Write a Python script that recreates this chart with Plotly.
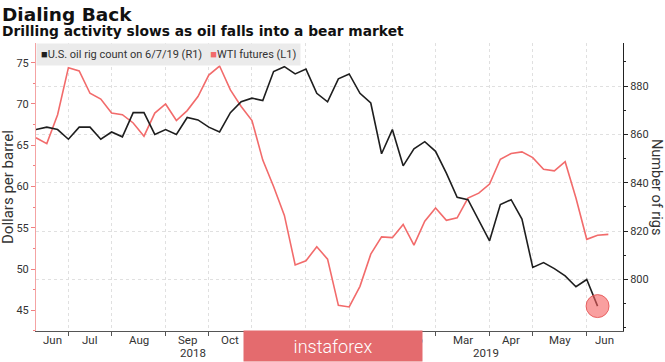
import pandas as pd
import plotly.graph_objects as go

# ---------------- data ----------------
week_dates = pd.date_range("2018-06-08", periods=54, freq="7D")

rig_count = [862, 863, 862, 858, 863, 863, 858, 861, 859, 869,
             869, 860, 862, 860, 867, 866, 863, 861, 869, 873.5,
             875, 874, 886, 888, 885, 887, 877, 873.5, 883, 885,
             877, 873, 852, 862, 847, 854, 857, 853, 844, 834,
             833, 824.5, 816, 831, 833, 825, 805, 807, 804.5, 801.5,
             797, 800, 789]

wti_futures = [65.9, 65.2, 68.7, 74.4, 74.0, 71.3, 70.6, 68.9, 68.7, 67.7,
               66.1, 68.9, 70.0, 68.0, 69.2, 70.9, 73.5, 74.6, 71.7, 69.7,
               68.0, 63.2, 60.0, 56.5, 50.5, 51.0, 52.7, 51.2, 45.6, 45.4,
               47.9, 51.8, 53.9, 53.8, 55.4, 52.9, 55.8, 57.4, 55.9, 56.2,
               58.6, 59.2, 60.3, 63.3, 64.0, 64.2, 63.5, 62.1, 61.9, 63.0,
               58.6, 53.6, 54.1, 54.2]

tick_dates = pd.to_datetime([
    "2018-06-29", "2018-07-27", "2018-08-31", "2018-09-28", "2018-10-26",
    "2018-11-30", "2018-12-28", "2019-01-25", "2019-02-22", "2019-03-29",
    "2019-04-26", "2019-05-31"])
month_labels = ["Jun", "Jul", "Aug", "Sep", "Oct", "Nov", "Dec",
                "Jan", "Feb", "Mar", "Apr", "May", "Jun"]
year_labels = ["2018", "2019"]
left_ticks = [45, 50, 55, 60, 65, 70, 75]
right_ticks = [800, 820, 840, 860, 880]

# ---------------- layout helpers ----------------
W, H = 665, 362
ML, MR, MT, MB = 36, 42, 43, 31
PW, PH = W - ML - MR, H - MT - MB

def px_x(px):
    return (px - ML) / PW

def px_y(py):
    return (H - MB - py) / PH

x_start = pd.Timestamp("2018-06-08")
x_end = pd.Timestamp("2019-06-23 12:00")

RED = "#f26b6b"
BLACK = "#1e1e1e"
TXT = "#333333"
GRID = "#e0e0e0"
FONT = "Roboto"
TITLE_FONT = "DejaVu Sans"

fig = go.Figure()
fig.add_trace(go.Scatter(x=week_dates[:len(wti_futures)], y=wti_futures,
                         mode="lines", line=dict(color=RED, width=1.6),
                         name="WTI futures (L1)", yaxis="y"))
fig.add_trace(go.Scatter(x=week_dates[:len(rig_count)], y=rig_count,
                         mode="lines", line=dict(color=BLACK, width=1.6),
                         name="U.S. oil rig count on 6/7/19 (R1)", yaxis="y2"))
fig.add_trace(go.Scatter(x=[week_dates[len(rig_count) - 1]], y=[rig_count[-1]],
                         mode="markers", yaxis="y2",
                         marker=dict(size=23, color="rgba(245,95,95,0.6)",
                                     line=dict(width=1, color="rgba(225,70,70,0.75)")),
                         showlegend=False))

annotations = []
# titles
annotations.append(dict(text="<b>Dialing Back</b>", xref="paper", yref="paper",
                        x=px_x(0), y=px_y(14), xanchor="left", yanchor="middle",
                        showarrow=False, font=dict(family=TITLE_FONT, size=18.5, color="#111")))
annotations.append(dict(text="<b>Drilling activity slows as oil falls into a bear market</b>",
                        xref="paper", yref="paper", x=px_x(0), y=px_y(31),
                        xanchor="left", yanchor="middle", showarrow=False,
                        font=dict(family=TITLE_FONT, size=13.8, color="#111")))
# axis titles
annotations.append(dict(text="Dollars per barrel", xref="paper", yref="paper",
                        x=px_x(8), y=0.5, textangle=-90, showarrow=False,
                        xanchor="center", yanchor="middle",
                        font=dict(family=FONT, size=15, color=TXT)))
annotations.append(dict(text="Number of rigs", xref="paper", yref="paper",
                        x=px_x(657), y=0.5, textangle=90, showarrow=False,
                        xanchor="center", yanchor="middle",
                        font=dict(family=FONT, size=14.5, color=TXT)))
# legend box
legend_text = (f'<span style="color:{BLACK}">■</span>U.S. oil rig count on 6/7/19 (R1)'
               f'   <span style="color:{RED}">■</span>WTI futures (L1)')
annotations.append(dict(text=legend_text, xref="paper", yref="paper",
                        x=0, y=1, xanchor="left", yanchor="top", showarrow=False,
                        align="left", bgcolor="#ebebeb", borderpad=4,
                        font=dict(family=FONT, size=11, color=TXT)))
# month labels centred between tick marks
bounds = [x_start] + list(tick_dates) + [x_end]
for i, lab in enumerate(month_labels):
    mid = bounds[i] + (bounds[i + 1] - bounds[i]) / 2
    annotations.append(dict(text=lab, xref="x", yref="paper", x=mid.isoformat(),
                            y=px_y(339.5), xanchor="center", yanchor="middle",
                            showarrow=False, font=dict(family=FONT, size=11.5, color=TXT)))
year_bounds = [x_start, tick_dates[6], x_end]
for i, lab in enumerate(year_labels):
    mid = year_bounds[i] + (year_bounds[i + 1] - year_bounds[i]) / 2
    annotations.append(dict(text=lab, xref="x", yref="paper", x=mid.isoformat(),
                            y=px_y(352.5), xanchor="center", yanchor="middle",
                            showarrow=False, font=dict(family=FONT, size=11.5, color=TXT)))
# watermark overlay
annotations.append(dict(text="instaforex", xref="paper", yref="paper",
                        x=px_x(333), y=px_y(345.7), xanchor="center", yanchor="middle",
                        showarrow=False, width=178, height=30, borderpad=0,
                        bgcolor="#e46b6e",
                        font=dict(family=FONT, size=18, color="white", weight=300)))

fig.update_layout(
    width=W, height=H,
    margin=dict(l=ML, r=MR, t=MT, b=MB, pad=0),
    paper_bgcolor="white", plot_bgcolor="white",
    showlegend=False,
    annotations=annotations,
    xaxis=dict(type="date", range=[x_start, x_end],
               tickmode="array", tickvals=tick_dates, showticklabels=False,
               ticks="outside", ticklen=4, tickcolor="#555",
               showgrid=True, gridcolor=GRID, griddash="dot", gridwidth=1,
               showline=True, linecolor="#555", linewidth=1, zeroline=False),
    yaxis=dict(range=[42.49, 77.39], tickmode="array", tickvals=left_ticks,
               ticks="outside", ticklen=4, tickcolor="#f08080",
               minor=dict(dtick=2.5, tick0=0, ticks="outside", ticklen=2, tickcolor="#f08080"),
               showline=True, linecolor="#f4a3a3", linewidth=1,
               showgrid=False, zeroline=False,
               tickfont=dict(family=FONT, size=11, color=TXT)),
    yaxis2=dict(overlaying="y", side="right", range=[778.7, 897.8],
                tickmode="array", tickvals=right_ticks,
                ticks="outside", ticklen=4, tickcolor="#222",
                minor=dict(dtick=10, tick0=0, ticks="outside", ticklen=2, tickcolor="#222"),
                showline=True, linecolor="#222", linewidth=1,
                showgrid=True, gridcolor=GRID, griddash="dot", gridwidth=1,
                zeroline=False,
                tickfont=dict(family=FONT, size=11, color=TXT)),
)

fig.write_html("out.html", config={"displayModeBar": False},
               post_script="document.body.style.margin='0';document.body.style.overflow='hidden';")
